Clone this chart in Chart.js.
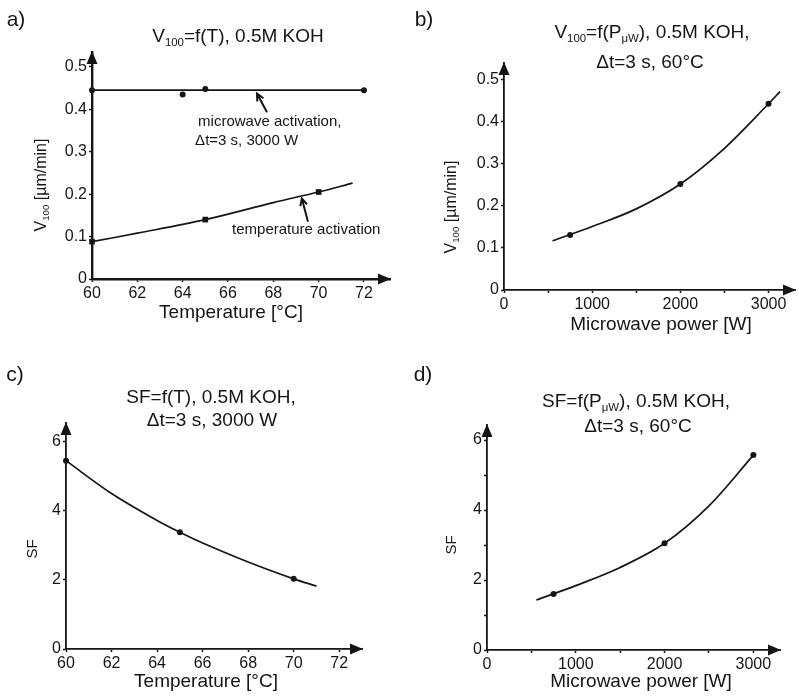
<!DOCTYPE html>
<html>
<head>
<meta charset="utf-8">
<script src="https://cdn.jsdelivr.net/npm/chart.js@4.4.1/dist/chart.umd.min.js"></script>
<style>
  html, body { margin: 0; padding: 0; background: #fff; }
  #wrap { position: relative; width: 799px; height: 696px; overflow: hidden; background: #fff; }
  #wrap canvas { position: absolute; left: 0; top: 0; }
</style>
</head>
<body>
<div id="wrap">
  <canvas id="panelA" width="799" height="696"></canvas>
  <canvas id="panelB" width="799" height="696"></canvas>
  <canvas id="panelC" width="799" height="696"></canvas>
  <canvas id="panelD" width="799" height="696"></canvas>
</div>
<script>
// ---- a) etch rate V100 versus temperature ----
const mwTempT = [60, 64, 65, 72];
const mwTempRate = [0.445, 0.435, 0.448, 0.445];
const mwLineT = [60, 72];
const mwLineRate = [0.445, 0.445];
const heatTempT = [60, 65, 70];
const heatTempRate = [0.088, 0.140, 0.205];
const heatCurveT = [60, 62, 65, 68, 70, 71.5];
const heatCurveRate = [0.088, 0.108, 0.140, 0.180, 0.205, 0.226];
const tempTicks = [60, 62, 64, 66, 68, 70, 72];
const tempLabels = ['60', '62', '64', '66', '68', '70', '72'];
const rateTicks = [0, 0.1, 0.2, 0.3, 0.4, 0.5];
const rateLabels = ['0', '0.1', '0.2', '0.3', '0.4', '0.5'];

// ---- b) etch rate V100 versus microwave power ----
const powerP = [750, 2000, 3000];
const powerRate = [0.131, 0.252, 0.443];
const powerCurveP = [550, 1000, 1500, 2000, 2500, 3000, 3130];
const powerCurveRate = [0.117, 0.151, 0.193, 0.252, 0.337, 0.443, 0.472];
const powerTicks = [0, 500, 1000, 1500, 2000, 2500, 3000];
const powerLabels = ['0', '', '1000', '', '2000', '', '3000'];

// ---- c) selectivity factor versus temperature ----
const sfTempT = [60, 65, 70];
const sfTemp = [5.45, 3.38, 2.03];
const sfTempCurveT = [60, 62, 64, 65, 66, 68, 70, 71];
const sfTempCurve = [5.45, 4.5, 3.72, 3.38, 3.07, 2.52, 2.03, 1.82];
const sfTicksC = [0, 2, 4, 6];
const sfLabelsC = ['0', '2', '4', '6'];

// ---- d) selectivity factor versus microwave power ----
const sfPowerP = [750, 2000, 3000];
const sfPower = [1.6, 3.05, 5.57];
const sfPowerCurveP = [556, 1000, 1500, 2000, 2500, 3000];
const sfPowerCurve = [1.43, 1.84, 2.36, 3.05, 4.12, 5.57];
const sfTicksD = [0, 1, 2, 3, 4, 5, 6];
const sfLabelsD = ['0', '', '2', '', '4', '', '6'];

const FONT = '"Liberation Sans", Arial, Helvetica, sans-serif';
const INK = '#151515';
Chart.defaults.font.family = FONT;
Chart.defaults.color = INK;

const W = 799, H = 696, SCALE_BOX = 40;

function pts(xs, ys) { return xs.map((x, i) => ({ x: x, y: ys[i] })); }

function axis(min, max, values, labels, borderWidth) {
  return {
    type: 'linear', min: min, max: max,
    afterBuildTicks: s => { s.ticks = values.map(v => ({ value: v })); },
    afterFit: s => { if (s.isHorizontal()) s.height = SCALE_BOX; else s.width = SCALE_BOX; },
    grid: { display: true, drawOnChartArea: false, drawTicks: true, tickLength: 3, tickWidth: 1.5, tickColor: INK },
    border: { display: true, color: INK, width: borderWidth },
    ticks: { padding: 2, color: INK, font: { size: 16 }, autoSkip: false, maxRotation: 0,
             callback: (v, i) => labels[i] }
  };
}

function curve(xs, ys, smooth) {
  return { data: pts(xs, ys), showLine: true, borderColor: INK, borderWidth: 1.7,
           pointRadius: 0, tension: smooth ? 0.35 : 0, fill: false, clip: false };
}
function markers(xs, ys, style, r) {
  return { data: pts(xs, ys), showLine: false, pointStyle: style, pointRadius: r,
           backgroundColor: INK, borderColor: INK, borderWidth: 0, clip: false };
}

// text with subscripts: segs = [[text, isSub], ...]
function drawRich(ctx, segs, x, y, size, align) {
  const subSize = size * 0.6;
  let total = 0;
  const widths = segs.map(s => {
    ctx.font = (s[1] ? subSize : size) + 'px ' + FONT;
    const w = ctx.measureText(s[0]).width;
    total += w;
    return w;
  });
  let cx = align === 'left' ? x : x - total / 2;
  ctx.textBaseline = 'middle';
  ctx.textAlign = 'left';
  segs.forEach((s, i) => {
    ctx.font = (s[1] ? subSize : size) + 'px ' + FONT;
    ctx.fillText(s[0], cx, s[1] ? y + size * 0.3 : y);
    cx += widths[i];
  });
}
function drawRotated(ctx, segs, x, y, size) {
  ctx.save();
  ctx.translate(x, y);
  ctx.rotate(-Math.PI / 2);
  drawRich(ctx, segs, 0, 0, size, 'center');
  ctx.restore();
}

// arrowheads at the ends of both axes
const axisArrows = {
  id: 'axisArrows',
  afterDraw(chart) {
    const { left, right, top, bottom } = chart.chartArea;
    const ctx = chart.ctx;
    ctx.save();
    ctx.fillStyle = INK;
    ctx.beginPath();
    ctx.moveTo(right + 1, bottom);
    ctx.lineTo(right - 12, bottom - 5.5);
    ctx.lineTo(right - 12, bottom + 5.5);
    ctx.closePath();
    ctx.fill();
    ctx.beginPath();
    ctx.moveTo(left, top - 1);
    ctx.lineTo(left - 5.5, top + 12);
    ctx.lineTo(left + 5.5, top + 12);
    ctx.closePath();
    ctx.fill();
    ctx.restore();
  }
};

// labelled pointer arrow (open head) in data coordinates
function pointer(ctx, chart, fromX, fromY, toX, toY) {
  const sx = chart.scales.x, sy = chart.scales.y;
  const x0 = sx.getPixelForValue(fromX), y0 = sy.getPixelForValue(fromY);
  const x1 = sx.getPixelForValue(toX), y1 = sy.getPixelForValue(toY);
  const ang = Math.atan2(y1 - y0, x1 - x0);
  ctx.save();
  ctx.strokeStyle = INK;
  ctx.lineWidth = 2;
  ctx.beginPath();
  ctx.moveTo(x0, y0);
  ctx.lineTo(x1, y1);
  ctx.moveTo(x1 - 8 * Math.cos(ang - 0.45), y1 - 8 * Math.sin(ang - 0.45));
  ctx.lineTo(x1, y1);
  ctx.lineTo(x1 - 8 * Math.cos(ang + 0.45), y1 - 8 * Math.sin(ang + 0.45));
  ctx.stroke();
  ctx.restore();
}

function textPlugin(spec) {
  return {
    id: 'panelText',
    afterDraw(chart) {
      const ctx = chart.ctx;
      ctx.save();
      ctx.fillStyle = INK;
      drawRich(ctx, [[spec.tag, false]], spec.tagPos[0], spec.tagPos[1], 21, 'center');
      spec.title.forEach(t => drawRich(ctx, t.segs, t.x, t.y, 19, 'center'));
      drawRotated(ctx, spec.yTitle.segs, spec.yTitle.x, spec.yTitle.y, spec.yTitle.size);
      drawRich(ctx, [[spec.xTitle.text, false]], spec.xTitle.x, spec.xTitle.y, 19, 'center');
      if (spec.notes) spec.notes(ctx, chart);
      ctx.restore();
    }
  };
}

function makePanel(id, box, xScale, yScale, datasets, spec) {
  return new Chart(document.getElementById(id), {
    type: 'scatter',
    data: { datasets: datasets },
    options: {
      responsive: false, animation: false, events: [],
      layout: { padding: { left: box.left - SCALE_BOX, top: box.top,
                           right: W - box.right, bottom: H - box.bottom - SCALE_BOX } },
      plugins: { legend: { display: false }, tooltip: { enabled: false }, title: { display: false } },
      scales: { x: xScale, y: yScale }
    },
    plugins: [axisArrows, textPlugin(spec)]
  });
}

// a)
makePanel('panelA', { left: 92, right: 390, top: 52, bottom: 279 },
  axis(60, 73.15, tempTicks, tempLabels, 2.4),
  axis(0, 0.535, rateTicks, rateLabels, 2.4),
  [
    curve(mwLineT, mwLineRate, false),
    markers(mwTempT, mwTempRate, 'circle', 3),
    curve(heatCurveT, heatCurveRate, true),
    markers(heatTempT, heatTempRate, 'rect', 4)
  ],
  {
    tag: 'a)', tagPos: [16, 20],
    title: [{ segs: [['V', false], ['100', true], ['=f(T), 0.5M KOH', false]], x: 238, y: 37 }],
    yTitle: { segs: [['V', false], ['100', true], [' [\u00b5m/min]', false]], x: 42, y: 185, size: 16 },
    xTitle: { text: 'Temperature [\u00b0C]', x: 231, y: 313 },
    notes(ctx, chart) {
      const sx = chart.scales.x, sy = chart.scales.y;
      pointer(ctx, chart, 67.72, 0.393, 67.28, 0.437);
      pointer(ctx, chart, 69.53, 0.135, 69.26, 0.19);
      ctx.fillStyle = INK;
      drawRich(ctx, [['microwave activation,', false]], sx.getPixelForValue(64.68), sy.getPixelForValue(0.37), 15, 'left');
      drawRich(ctx, [['\u0394t=3 s, 3000 W', false]], sx.getPixelForValue(64.55), sy.getPixelForValue(0.325), 15, 'left');
      drawRich(ctx, [['temperature activation', false]], sx.getPixelForValue(66.18), sy.getPixelForValue(0.116), 15, 'left');
    }
  });

// b)
makePanel('panelB', { left: 504, right: 797, top: 63, bottom: 290 },
  axis(0, 3300, powerTicks, powerLabels, 1.8),
  axis(0, 0.54, rateTicks, rateLabels, 1.8),
  [
    curve(powerCurveP, powerCurveRate, true),
    markers(powerP, powerRate, 'circle', 3)
  ],
  {
    tag: 'b)', tagPos: [424, 20],
    title: [
      { segs: [['V', false], ['100', true], ['=f(P', false], ['\u03bcW', true], ['), 0.5M KOH,', false]], x: 652, y: 33 },
      { segs: [['\u0394t=3 s, 60\u00b0C', false]], x: 650, y: 63 }
    ],
    yTitle: { segs: [['V', false], ['100', true], [' [\u00b5m/min]', false]], x: 452, y: 207, size: 16 },
    xTitle: { text: 'Microwave power [W]', x: 661, y: 325 }
  });

// c)
makePanel('panelC', { left: 66, right: 362, top: 423, bottom: 649 },
  axis(60, 73, tempTicks, tempLabels, 1.8),
  axis(0, 6.54, sfTicksC, sfLabelsC, 1.8),
  [
    curve(sfTempCurveT, sfTempCurve, true),
    markers(sfTempT, sfTemp, 'circle', 3)
  ],
  {
    tag: 'c)', tagPos: [15, 375],
    title: [
      { segs: [['SF=f(T), 0.5M KOH,', false]], x: 211, y: 398 },
      { segs: [['\u0394t=3 s, 3000 W', false]], x: 212, y: 421 }
    ],
    yTitle: { segs: [['SF', false]], x: 33, y: 549, size: 15 },
    xTitle: { text: 'Temperature [\u00b0C]', x: 206, y: 682 }
  });

// d)
makePanel('panelD', { left: 487, right: 780, top: 425, bottom: 650 },
  axis(0, 3300, powerTicks, powerLabels, 1.8),
  axis(0, 6.43, sfTicksD, sfLabelsD, 1.8),
  [
    curve(sfPowerCurveP, sfPowerCurve, true),
    markers(sfPowerP, sfPower, 'circle', 3)
  ],
  {
    tag: 'd)', tagPos: [423, 375],
    title: [
      { segs: [['SF=f(P', false], ['\u03bcW', true], ['), 0.5M KOH,', false]], x: 636, y: 402 },
      { segs: [['\u0394t=3 s, 60\u00b0C', false]], x: 638, y: 427 }
    ],
    yTitle: { segs: [['SF', false]], x: 452, y: 545, size: 15 },
    xTitle: { text: 'Microwave power [W]', x: 641, y: 682 }
  });
</script>
</body>
</html>
